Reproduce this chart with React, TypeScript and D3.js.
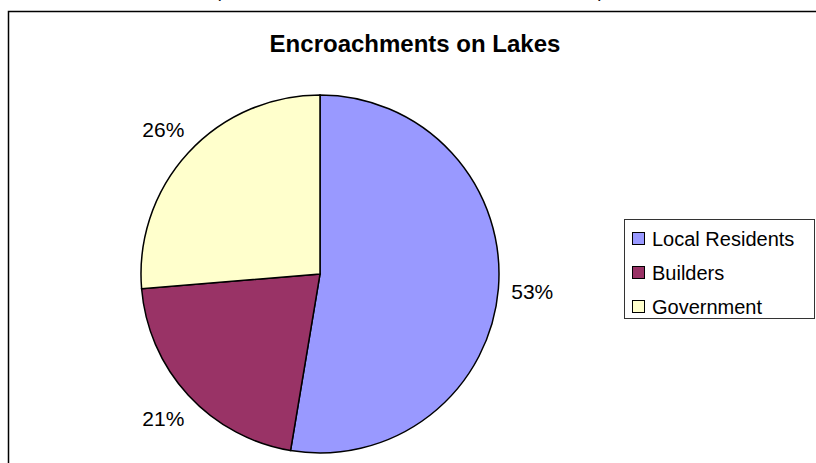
import React from "react"
import * as d3 from "d3"

// values (counts giving 53% / 21% / 26%)
const categories = ["Local Residents", "Builders", "Government"]
const values = [20, 8, 10]
const colors = ["#9999FF", "#993366", "#FFFFCC"]
const title = "Encroachments on Lakes"

export default function App() {
  const width = 816
  const height = 463
  const cx = 320
  const cy = 274
  const radius = 179

  const total = d3.sum(values)
  const pie = d3.pie<number>().sort(null).value(d => d)
  const arcs = pie(values)
  const arcGen = d3.arc<d3.PieArcDatum<number>>().innerRadius(0).outerRadius(radius)
  const labelArc = d3.arc<d3.PieArcDatum<number>>().innerRadius(213).outerRadius(213)
  const pct = d3.format(".0%")

  const legendX = 624
  const legendY = 219
  const rowY = [239, 273, 307]

  const font = "Liberation Sans, Arial, sans-serif"

  return (
    <svg
      width={width}
      height={height}
      style={{ position: "absolute", left: 0, top: 0, background: "#fff" }}
      fontFamily={font}
    >
      {/* cropped text line above the chart */}
      <text x={215} y={-3} fontSize={18} fontFamily={font}>(</text>
      <text x={598} y={-3} fontSize={18} fontFamily={font}>)</text>

      {/* chart area border (cut off at right and bottom) */}
      <path d={`M8.5,${height + 5} V11.5 H${width + 5}`} fill="none" stroke="#000" strokeWidth={1.5} />

      <text x={415} y={52} textAnchor="middle" fontSize={24} fontWeight="bold" fill="#000">
        {title}
      </text>

      <g transform={`translate(${cx},${cy})`}>
        {arcs.map((a, i) => (
          <path key={i} d={arcGen(a) ?? ""} fill={colors[i]} stroke="#000" strokeWidth={1.5} />
        ))}
        {arcs.map((a, i) => {
          const [x, y] = labelArc.centroid(a)
          return (
            <text key={i} x={x} y={y} dy="0.36em" textAnchor="middle" fontSize={21} fill="#000">
              {pct(a.data / total)}
            </text>
          )
        })}
      </g>

      <g>
        <rect x={legendX + 0.5} y={legendY + 0.5} width={190} height={99} fill="#fff" stroke="#333" strokeWidth={1} />
        {categories.map((c, i) => (
          <g key={c}>
            <rect x={632.5} y={rowY[i] - 6.5} width={12} height={12} fill={colors[i]} stroke="#000" strokeWidth={1} />
            <text x={652} y={rowY[i]} dy="0.36em" fontSize={20} fill="#000">
              {c}
            </text>
          </g>
        ))}
      </g>
    </svg>
  )
}
